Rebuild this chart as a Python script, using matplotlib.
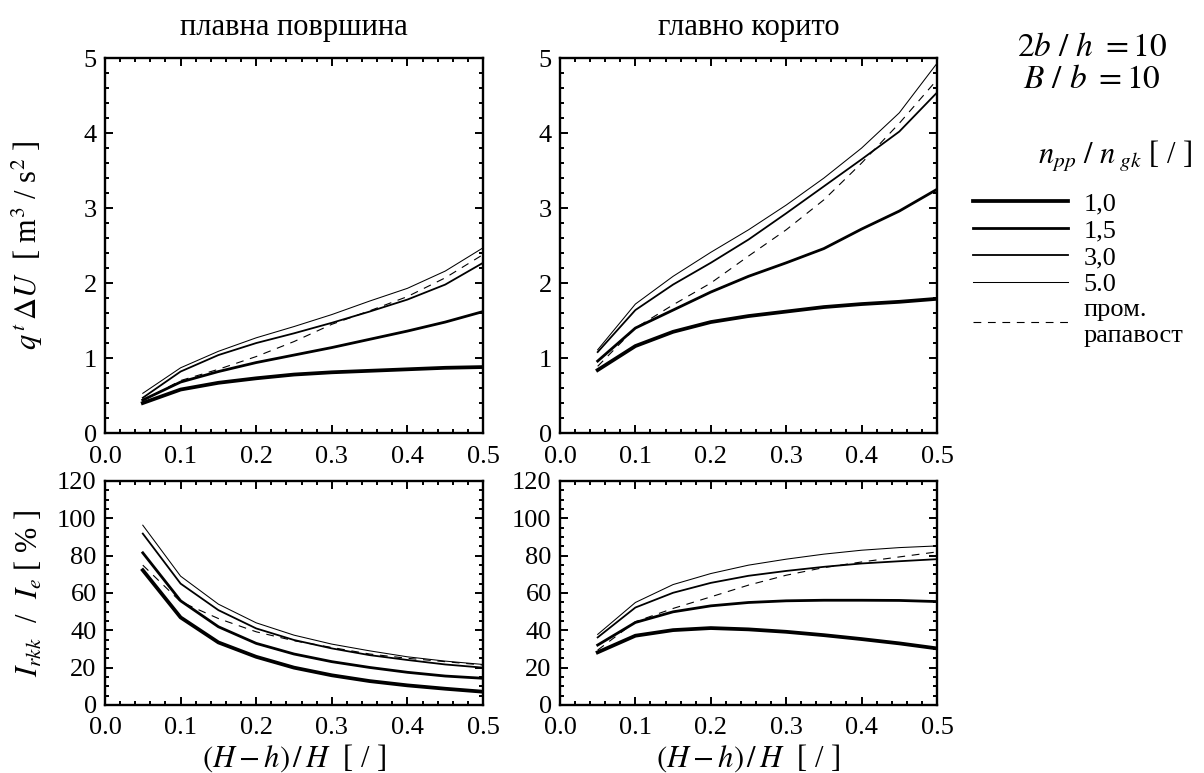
import numpy as np
import matplotlib
matplotlib.use("Agg")
import matplotlib.pyplot as plt
from matplotlib.ticker import MultipleLocator, FormatStrFormatter

plt.rcParams['font.family'] = ['Liberation Serif', 'DejaVu Serif']
plt.rcParams['mathtext.fontset'] = 'stix'

# Data
x = [0.05, 0.10, 0.15, 0.20, 0.25, 0.30, 0.35, 0.40, 0.45, 0.50]
labels = ['1,0', '1,5', '3,0', '5.0', 'пром.\nрапавост']

# top left - плавна површина, q' dU
q_pp_10 = [0.40, 0.58, 0.67, 0.73, 0.78, 0.81, 0.83, 0.85, 0.87, 0.88]
q_pp_15 = [0.44, 0.68, 0.82, 0.94, 1.04, 1.14, 1.25, 1.36, 1.48, 1.62]
q_pp_30 = [0.47, 0.82, 1.04, 1.20, 1.33, 1.47, 1.62, 1.78, 1.98, 2.27]
q_pp_50 = [0.53, 0.87, 1.09, 1.27, 1.42, 1.58, 1.76, 1.93, 2.16, 2.47]
q_pp_var = [0.43, 0.70, 0.85, 1.02, 1.22, 1.45, 1.63, 1.82, 2.07, 2.38]

# top right - главно корито
q_gk_10 = [0.84, 1.16, 1.35, 1.48, 1.56, 1.62, 1.68, 1.72, 1.75, 1.79]
q_gk_15 = [0.96, 1.40, 1.64, 1.88, 2.09, 2.27, 2.46, 2.72, 2.96, 3.25]
q_gk_30 = [1.08, 1.64, 1.98, 2.27, 2.58, 2.93, 3.29, 3.65, 4.02, 4.54]
q_gk_50 = [1.11, 1.72, 2.09, 2.41, 2.71, 3.04, 3.40, 3.80, 4.27, 4.93]
q_gk_var = [0.89, 1.40, 1.71, 2.00, 2.36, 2.71, 3.11, 3.60, 4.13, 4.71]

# bottom left - I_rkk / I_e, плавна површина
i_pp_10 = [72.2, 46.9, 33.5, 25.8, 20.0, 15.9, 12.8, 10.5, 8.7, 7.1]
i_pp_15 = [81.5, 55.8, 41.9, 33.0, 27.3, 23.2, 20.1, 17.5, 15.5, 14.3]
i_pp_30 = [91.8, 65.0, 50.8, 41.0, 34.8, 30.3, 26.7, 24.1, 21.7, 20.0]
i_pp_50 = [96.3, 69.0, 54.0, 44.0, 37.4, 32.6, 29.0, 25.8, 23.5, 21.7]
i_pp_var = [74.9, 55.3, 46.3, 39.2, 34.4, 30.8, 27.3, 25.0, 23.2, 21.4]

# bottom right - главно корито
i_gk_10 = [28.2, 37.1, 40.1, 41.2, 40.5, 39.2, 37.4, 35.3, 33.0, 30.3]
i_gk_15 = [32.1, 44.2, 49.9, 53.1, 54.9, 55.8, 56.1, 56.1, 56.0, 55.4]
i_gk_30 = [36.2, 52.2, 60.1, 65.4, 69.2, 71.8, 74.0, 75.8, 77.0, 78.1]
i_gk_50 = [37.8, 54.9, 64.5, 70.4, 74.9, 78.1, 80.8, 82.9, 84.3, 85.2]
i_gk_var = [29.4, 44.6, 51.7, 57.9, 64.2, 69.5, 73.6, 76.6, 79.3, 82.0]

styles = [dict(lw=2.7, ls='-'), dict(lw=2.0, ls='-'), dict(lw=1.3, ls='-'),
          dict(lw=0.75, ls='-'), dict(lw=0.8, ls=(0, (7, 6)))]

fig = plt.figure(figsize=(12.04, 7.73), dpi=100)
ax_tl = fig.add_axes([0.0872, 0.4398, 0.314, 0.485])
ax_tr = fig.add_axes([0.4651, 0.4398, 0.3131, 0.485])
ax_bl = fig.add_axes([0.0872, 0.088, 0.314, 0.2898])
ax_br = fig.add_axes([0.4651, 0.088, 0.3131, 0.2898])

panels = [
    (ax_tl, [q_pp_10, q_pp_15, q_pp_30, q_pp_50, q_pp_var]),
    (ax_tr, [q_gk_10, q_gk_15, q_gk_30, q_gk_50, q_gk_var]),
    (ax_bl, [i_pp_10, i_pp_15, i_pp_30, i_pp_50, i_pp_var]),
    (ax_br, [i_gk_10, i_gk_15, i_gk_30, i_gk_50, i_gk_var]),
]

handles = []
for ax, series in panels:
    hs = []
    for y, st in zip(series, styles):
        h, = ax.plot(x, y, color='black', **st)
        hs.append(h)
    if not handles:
        handles = hs
    ax.set_xlim(0, 0.5)
    ax.xaxis.set_major_locator(MultipleLocator(0.1))
    ax.xaxis.set_minor_locator(MultipleLocator(0.02))
    ax.xaxis.set_major_formatter(FormatStrFormatter('%.1f'))
    ax.tick_params(which='both', direction='in', top=True, right=True,
                   labelsize=19, width=1.4)
    ax.tick_params(axis='x', pad=9)
    ax.tick_params(axis='y', pad=6)
    ax.tick_params(which='major', length=6)
    ax.tick_params(which='minor', length=3)
    for s in ax.spines.values():
        s.set_linewidth(1.7)

for ax in (ax_tl, ax_tr):
    ax.set_ylim(0, 5)
    ax.yaxis.set_major_locator(MultipleLocator(1))
    ax.yaxis.set_minor_locator(MultipleLocator(0.2))
for ax in (ax_bl, ax_br):
    ax.set_ylim(0, 120)
    ax.yaxis.set_major_locator(MultipleLocator(20))
    ax.yaxis.set_minor_locator(MultipleLocator(5))

ax_tl.set_title('плавна површина', fontsize=22, pad=17)
ax_tr.set_title('главно корито', fontsize=22, pad=17)
ax_tl.set_ylabel(r'$q^{\,t}\,\Delta U$  [ m$^3$ / s$^2$ ]', fontsize=22)
ax_bl.set_ylabel(r'$I_{rkk}$  /  $I_e$ [ % ]', fontsize=22)
ax_tl.yaxis.set_label_coords(-0.158, 0.5)
ax_bl.yaxis.set_label_coords(-0.158, 0.5)
ax_bl.set_xlabel(r'$(H-h)\,/\,H$  [ / ]', fontsize=22, labelpad=2)
ax_br.set_xlabel(r'$(H-h)\,/\,H$  [ / ]', fontsize=22, labelpad=2)

fig.text(0.907, 0.938, r'$2b\ /\ h\ =10$', fontsize=24, ha='center', va='center')
fig.text(0.907, 0.897, r'$B\ /\ b\ =10$', fontsize=24, ha='center', va='center')
fig.text(0.926, 0.797, r'$n_{pp}\ /\ n_{\ gk}$ [ / ]', fontsize=22, ha='center', va='center')

fig.legend(handles, labels, loc='upper left', bbox_to_anchor=(0.797, 0.769),
           frameon=False, fontsize=19, handlelength=3.6, labelspacing=0.13,
           handletextpad=0.6, borderpad=0)

fig.savefig('out.png', dpi=100)
